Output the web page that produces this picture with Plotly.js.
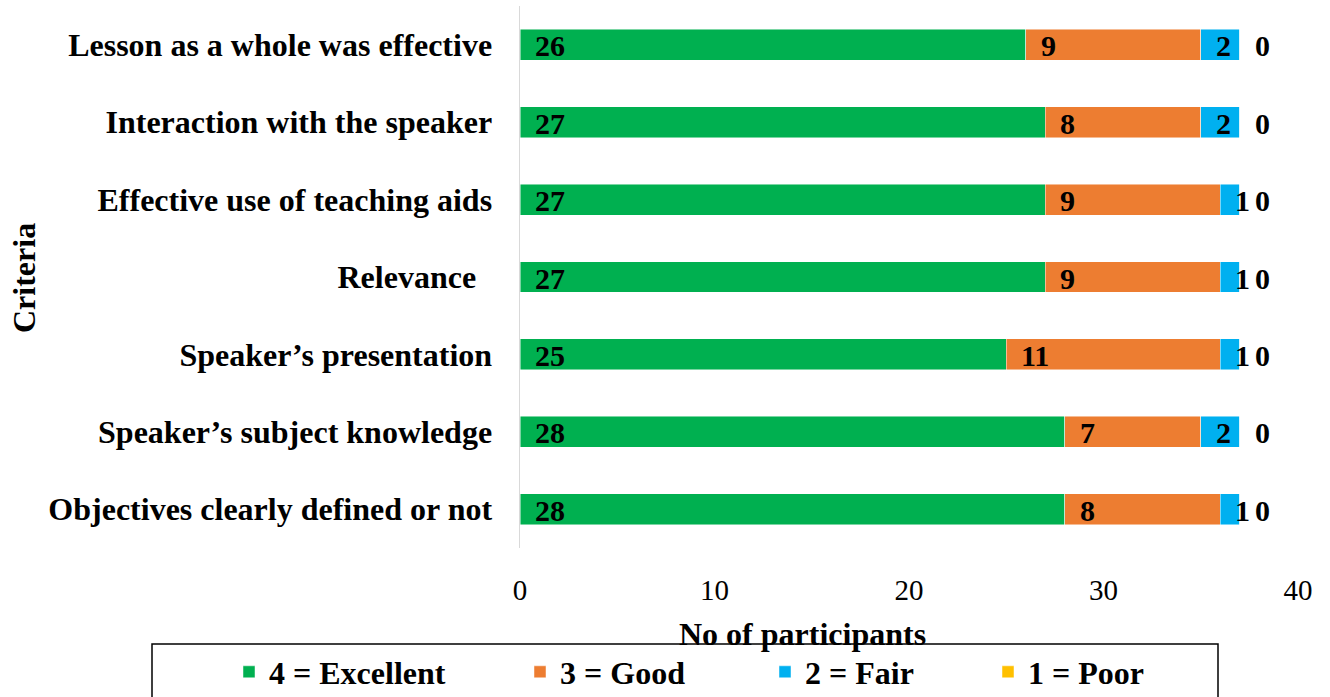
<!DOCTYPE html>
<html>
<head>
<meta charset="utf-8">
<script src="https://cdn.plot.ly/plotly-3.0.1.min.js"></script>
<style>html,body{margin:0;padding:0;background:#fff;}#chart{width:1330px;height:697px;}</style>
</head>
<body>
<div id="chart"></div>
<script>
// ---- data (top to bottom as shown) ----
const criteria = [
  "Lesson as a whole was effective",
  "Interaction with the speaker",
  "Effective use of teaching aids",
  "Relevance\u00a0\u00a0",
  "Speaker\u2019s presentation",
  "Speaker\u2019s subject knowledge",
  "Objectives clearly defined or not"
];
const excellent = [26, 27, 27, 27, 25, 28, 28];
const good      = [9, 8, 9, 9, 11, 7, 8];
const fair      = [2, 2, 1, 1, 1, 2, 1];
const poor      = [0, 0, 0, 0, 0, 0, 0];
const seriesNames = ["4 = Excellent", "3 = Good", "2 = Fair", "1 = Poor"];
const xTicks = [0, 10, 20, 30, 40];

// ---- styling ----
const colors = ["#00B050", "#ED7D31", "#00B0F0", "#FFC000"];
const W = 1330, H = 697;
const M = {l: 520, r: 32, t: 6, b: 149, autoexpand: false};
const PW = W - M.l - M.r, PH = H - M.t - M.b;
const px2x = p => (p - M.l) / PW;
const px2y = p => (H - M.b - p) / PH;
const serif = "Liberation Serif, Times New Roman, serif";

const seriesVals = [excellent, good, fair, poor];
const legendIds = ["legend", "legend2", "legend3", "legend4"];
const traces = seriesVals.map((vals, i) => ({
  type: "bar",
  orientation: "h",
  name: seriesNames[i],
  y: criteria,
  x: vals,
  marker: {color: colors[i], line: {color: "rgba(255,255,255,0.6)", width: 0.8}},
  legend: legendIds[i],
  hoverinfo: "x+name"
}));

// data labels anchored at the base of each segment (inside base)
const annotations = [];
criteria.forEach((c, r) => {
  let base = 0;
  seriesVals.forEach(vals => {
    annotations.push({
      x: base, y: c, xref: "x", yref: "y",
      text: String(vals[r]), showarrow: false,
      xanchor: "left", yanchor: "middle", xshift: 13, yshift: -1,
      font: {family: serif, size: 30, weight: "bold", color: "#000"}
    });
    base += vals[r];
  });
});
annotations.push({
  xref: "paper", yref: "paper", x: px2x(802), y: px2y(634),
  xanchor: "center", yanchor: "middle", showarrow: false,
  text: "No of participants",
  font: {family: serif, size: 32, weight: "bold", color: "#000"}
});
annotations.push({
  xref: "paper", yref: "paper", x: px2x(24), y: px2y(278),
  xanchor: "center", yanchor: "middle", showarrow: false, textangle: -90,
  text: "Criteria",
  font: {family: serif, size: 32, weight: "bold", color: "#000"}
});

const legendTextStarts = [269, 560, 805, 1028];
const layout = {
  width: W, height: H,
  margin: M,
  barmode: "stack",
  bargap: 0.6,
  paper_bgcolor: "#fff",
  plot_bgcolor: "#fff",
  showlegend: true,
  xaxis: {
    range: [0, 40], tickvals: xTicks, ticktext: xTicks.map(String),
    showgrid: false, zeroline: false, showline: false, ticks: "",
    ticklabelstandoff: 22, automargin: false,
    tickfont: {family: serif, size: 29, color: "#000"}
  },
  yaxis: {
    autorange: "reversed", showgrid: false, zeroline: false,
    showline: true, linecolor: "#d9d9d9", linewidth: 1.5, ticks: "",
    ticklabelstandoff: 20, automargin: false,
    tickfont: {family: serif, size: 32, weight: "bold", color: "#000"}
  },
  annotations: annotations,
  shapes: [{
    type: "rect", xref: "paper", yref: "paper",
    x0: px2x(152), x1: px2x(1218), y0: px2y(644), y1: px2y(705),
    line: {color: "#000", width: 1.5}, fillcolor: "rgba(0,0,0,0)"
  }]
};
legendIds.forEach((id, i) => {
  layout[id] = {
    orientation: "h", xanchor: "left", yanchor: "middle",
    x: px2x(legendTextStarts[i] - 40), y: px2y(672),
    bgcolor: "rgba(0,0,0,0)", borderwidth: 0,
    font: {family: serif, size: 32, weight: "bold", color: "#000"}
  };
});

Plotly.newPlot("chart", traces, layout, {displayModeBar: false, staticPlot: true});
</script>
</body>
</html>
